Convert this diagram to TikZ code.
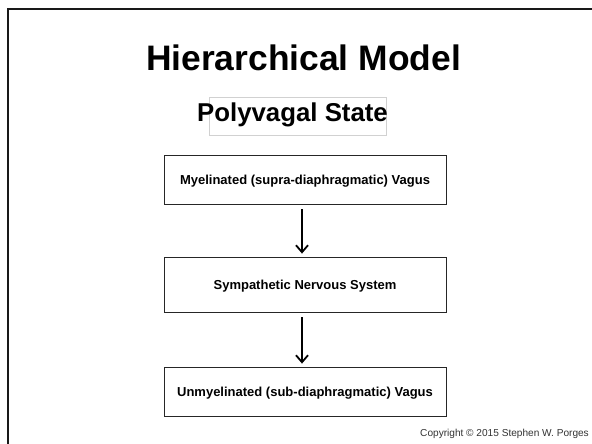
\documentclass[tikz,border=0pt]{standalone}
\usepackage{fontspec}
\setmainfont{Liberation Sans}
\usetikzlibrary{arrows.meta}
\tikzset{
  stagebox/.style={draw=black!85, line width=0.8bp, minimum width=282bp, inner sep=0pt,
    font=\bfseries\fontsize{13bp}{15bp}\selectfont, text height=9.3bp, text depth=0pt},
  flowarrow/.style={line width=1.8bp, -{Straight Barb[length=7bp,width=12bp,line width=1.8bp]}},
  frameline/.style={line width=2.6bp, draw=black!90},
}
\begin{document}
\begin{tikzpicture}[x=1bp,y=-1bp]
\useasboundingbox (0,0) rectangle (592,444);
\fill[white] (0,0) rectangle (592,444);
% frame (top and left)
\coordinate (fbl) at (8,444);
\coordinate (ftl) at (8,9);
\coordinate (ftr) at (592,9);
\draw[frameline] (fbl) -- (ftl) -- (ftr);
% title
\node[anchor=base, inner sep=0pt, font=\bfseries\fontsize{35.4bp}{40bp}\selectfont] (title) at (303.5,71) {Hierarchical Model};
% subtitle box and text
\node[draw=black!18, line width=0.8bp, minimum width=177bp, minimum height=38bp, inner sep=0pt] (psbox) at (297.5,116) {};
\node[anchor=base, inner sep=0pt, font=\bfseries\fontsize{25.8bp}{30bp}\selectfont] (ps) at (292.5,121.5) {Polyvagal State};
% stages
\node[stagebox, minimum height=49bp] (b1) at (305,179.5) {Myelinated (supra-diaphragmatic) Vagus};
\node[stagebox, minimum height=55bp] (b2) at (305,284.5) {Sympathetic Nervous System};
\node[stagebox, minimum height=49bp] (b3) at (305,391.5) {Unmyelinated (sub-diaphragmatic) Vagus};
\draw[flowarrow, shorten <=5bp, shorten >=3bp] ([xshift=-3bp]b1.south) -- ([xshift=-3bp]b2.north);
\draw[flowarrow, shorten <=5bp, shorten >=3bp] ([xshift=-3bp]b2.south) -- ([xshift=-3bp]b3.north);
% copyright
\node[anchor=base east, inner sep=0pt, font=\fontsize{10.1bp}{12bp}\selectfont, text=black!80] (copy) at (589,436) {Copyright © 2015 Stephen W. Porges};
\end{tikzpicture}
\end{document}
